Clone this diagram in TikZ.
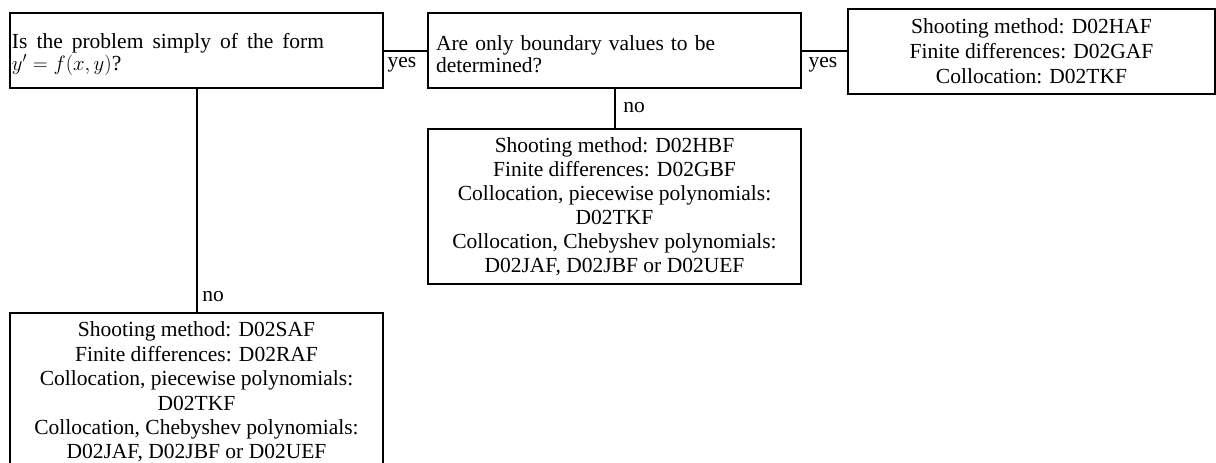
\documentclass[tikz,border=0pt]{standalone}
\usepackage{fontspec}
\setmainfont{Liberation Serif}
\begin{document}
\begin{tikzpicture}[x=1pt,y=-1pt,
  box/.style={draw, line width=2pt, inner sep=0pt, font=\fontsize{21.5}{24}\selectfont},
  lbl/.style={inner sep=0pt, font=\fontsize{21.5}{24}\selectfont},
  conn/.style={line width=2pt}]
\useasboundingbox (0,0) rectangle (1216,463);
\node[box, minimum width=373pt, minimum height=75pt, text width=369pt, align=left,
  font=\fontsize{21.5}{22}\selectfont] (q1) at (196.5,50.5)
  {\spaceskip=0.42em plus 0.1em \rule{0pt}{23pt}Is the problem simply of the form\\ $y'=f(x,y)$?};
\node[box, minimum width=373pt, minimum height=75pt, text width=357pt, align=left,
  font=\fontsize{21.5}{22}\selectfont] (q2) at (614.5,50.5)
  {\spaceskip=0.33em plus 0.1em \rule{0pt}{23pt}Are only boundary values to be\\ determined?};
\node[box, minimum width=367pt, minimum height=85pt, align=center,
  font=\fontsize{21.5}{25}\selectfont] (r1) at (1031.5,51)
  {Shooting method: D02HAF\\ Finite differences: D02GAF\\ Collocation: D02TKF};
\node[box, minimum width=373pt, minimum height=155pt, align=center] (r2) at (614.5,206.5)
  {Shooting method: D02HBF\\ Finite differences: D02GBF\\ Collocation, piecewise polynomials:\\ D02TKF\\ Collocation, Chebyshev polynomials:\\ D02JAF, D02JBF or D02UEF};
\node[box, minimum width=373pt, minimum height=158pt, align=center,
  font=\fontsize{21.5}{24.4}\selectfont] (r3) at (196.5,392)
  {Shooting method: D02SAF\\ Finite differences: D02RAF\\ Collocation, piecewise polynomials:\\ D02TKF\\ Collocation, Chebyshev polynomials:\\ D02JAF, D02JBF or D02UEF};
\draw[conn] (q1.east) -- (q2.west);
\draw[conn] (q2.east) -- (q2.east -| r1.west);
\draw[conn] (q2.south) -- (r2.north);
\draw[conn] (q1.south) -- (r3.north);
\node[lbl] (y1) at (402,65) {yes};
\node[lbl] (y2) at (823,65) {yes};
\node[lbl] (n1) at (634,108) {no};
\node[lbl] (n2) at (213,297) {no};
\end{tikzpicture}
\end{document}
